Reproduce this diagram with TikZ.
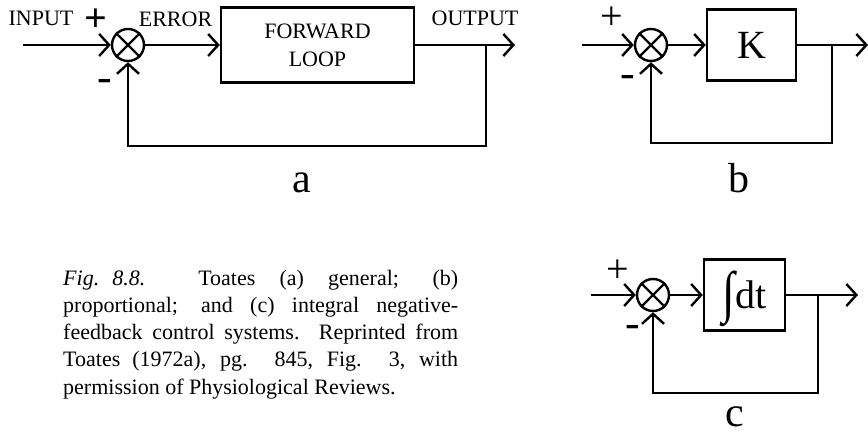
\documentclass[tikz,border=0pt]{standalone}
\usepackage{fontspec}
\setmainfont{Liberation Serif}
\usetikzlibrary{arrows.meta}
\begin{document}
\begin{tikzpicture}[x=1pt,y=-1pt,
  line width=2.4pt,
  >={Straight Barb[length=10pt,width=22pt]},
  sumnode/.style={circle,draw,minimum size=32pt,inner sep=0pt},
  blockbox/.style={rectangle,draw,inner sep=0pt},
  sigtext/.style={font=\fontsize{22}{24}\selectfont,anchor=base,inner sep=0pt},
  plustext/.style={font=\fontsize{40}{40}\selectfont,anchor=base,inner sep=0pt},
  minustext/.style={font=\fontsize{44}{44}\selectfont,anchor=base,inner sep=0pt},
  sublabel/.style={font=\fontsize{42}{42}\selectfont,anchor=base,inner sep=0pt},
  conn/.style={->}]
\useasboundingbox (0,0) rectangle (868,436);

% ---------- a ----------
\node[sumnode] (sa) at (128,45) {};
\draw (sa.45) -- (sa.225) (sa.135) -- (sa.315);
\node[blockbox,minimum width=193pt,minimum height=75pt,align=center,
      font=\fontsize{22}{28}\selectfont] (ba) at (317.5,45) {FORWARD\\LOOP};
\coordinate (ina) at (23,45);
\coordinate (outa) at (515,45);
\coordinate (ta) at (486,45);
\coordinate (ca) at (486,146);
\draw[conn] (ina) -- (sa.west);
\draw[conn] (sa.east) -- (ba.west);
\draw[conn] (ba.east) -- (outa);
\draw[conn] (ta) -- (ca) -| (sa.south);
\node[sigtext] (inputlbl) at (41,26) {INPUT};
\node[sigtext] (errlbl) at (175.5,27) {ERROR};
\node[sigtext] (outlbl) at (475,26) {OUTPUT};
\node[plustext,font=\fontsize{40}{40}\selectfont\bfseries] (pa) at (96,32) {+};
\node[minustext] (ma) at (105,91.5) {-};
\node[sublabel] (la) at (302,192) {a};

% ---------- b ----------
\node[sumnode] (sb) at (651,45) {};
\draw (sb.45) -- (sb.225) (sb.135) -- (sb.315);
\node[blockbox,minimum width=89pt,minimum height=71pt,
      font=\fontsize{40}{40}\selectfont] (bb) at (751.5,45) {K};
\coordinate (inb) at (582,45);
\coordinate (outb) at (868,45);
\coordinate (tb) at (832,45);
\coordinate (cb) at (832,143);
\draw[conn] (inb) -- (sb.west);
\draw[conn] (sb.east) -- (bb.west);
\draw[conn] (bb.east) -- (outb);
\draw[conn] (tb) -- (cb) -| (sb.south);
\node[plustext] (pb) at (612,30) {+};
\node[minustext] (mb) at (628,87.5) {-};
\node[sublabel] (lb) at (739,192) {b};

% ---------- c ----------
\node[sumnode] (sc) at (653,295) {};
\draw (sc.45) -- (sc.225) (sc.135) -- (sc.315);
\node[blockbox,minimum width=81pt,minimum height=71pt,
      font=\fontsize{40}{40}\selectfont] (bc) at (744.5,295)
      {\smash{\raisebox{-2.5pt}{\scalebox{1.15}[1.42]{∫}}}\kern1pt dt};
\coordinate (inc) at (591,295);
\coordinate (outc) at (858,295);
\coordinate (tc) at (818,295);
\coordinate (cc) at (818,393);
\draw[conn] (inc) -- (sc.west);
\draw[conn] (sc.east) -- (bc.west);
\draw[conn] (bc.east) -- (outc);
\draw[conn] (tc) -- (cc) -| (sc.south);
\node[plustext] (pc) at (618,282) {+};
\node[minustext] (mc) at (633,337.5) {-};
\node[sublabel] (lc) at (735,426) {c};

% ---------- caption ----------
\node[anchor=base west,inner sep=0pt,font=\fontsize{22}{27.3}\selectfont] (cap) at (62,285)
  {\parbox[t]{395pt}{\textit{Fig.\hspace{0.6em}8.8.}\hspace{2.4em}Toates (a) general; (b)\linebreak
   proportional; and (c) integral negative-\linebreak
   feedback control systems.\ \ Reprinted from\linebreak
   Toates (1972a), pg. 845, Fig. 3, with\linebreak
   permission of Physiological Reviews.}};
\end{tikzpicture}
\end{document}
